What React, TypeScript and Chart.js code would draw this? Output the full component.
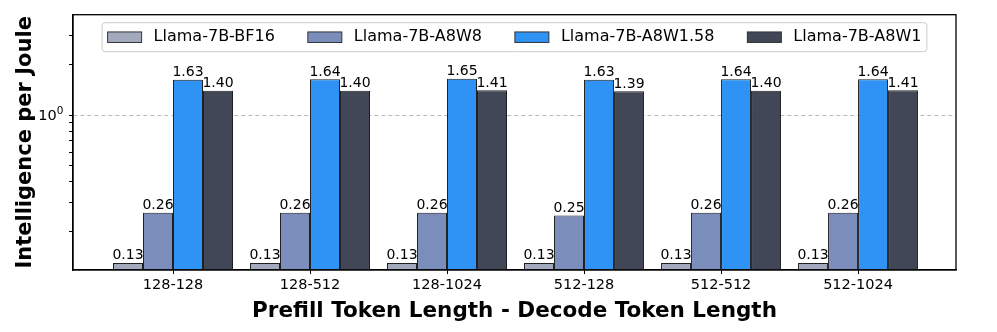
import { useEffect, useRef } from "react";
import { Chart, registerables } from "chart.js";

Chart.register(...registerables);

const CATEGORIES = ["128-128", "128-512", "128-1024", "512-128", "512-512", "512-1024"];
const SERIES_NAMES = ["Llama-7B-BF16", "Llama-7B-A8W8", "Llama-7B-A8W1.58", "Llama-7B-A8W1"];
const BF16 = [0.13, 0.13, 0.13, 0.13, 0.13, 0.13];
const A8W8 = [0.26, 0.26, 0.26, 0.25, 0.26, 0.26];
const A8W158 = [1.63, 1.64, 1.65, 1.63, 1.64, 1.64];
const A8W1 = [1.4, 1.4, 1.41, 1.39, 1.4, 1.41];
const Y_TICKS = [0.2, 0.3, 0.4, 0.5, 0.6, 0.7, 0.8, 0.9, 1, 2, 3];
const Y_MAJOR = [{ value: 1, base: "10", exp: "0" }];
const Y_MIN = 0.118;
const Y_MAX = 4.0;
const COLORS = ["#A4AABE", "#7A8DBB", "#2E93F5", "#414756"];
const EDGE = "#1e1e1e";
const FONT = '"DejaVu Sans", "Liberation Sans", sans-serif';

const SERIES = [BF16, A8W8, A8W158, A8W1];

const framePlugin = {
  id: "frame",
  afterDraw(chart: any) {
    const { ctx, chartArea: a } = chart;
    ctx.save();
    ctx.strokeStyle = "#000";
    ctx.lineWidth = 1.3;
    ctx.strokeRect(a.left, a.top, a.right - a.left, a.bottom - a.top);
    ctx.restore();
  },
};

const yMajorLabelPlugin = {
  id: "yMajorLabels",
  afterDraw(chart: any) {
    const { ctx } = chart;
    const y = chart.scales.y;
    ctx.save();
    ctx.fillStyle = "#000";
    ctx.textBaseline = "alphabetic";
    ctx.textAlign = "left";
    Y_MAJOR.forEach((m) => {
      const py = y.getPixelForValue(m.value);
      ctx.font = `14.5px ${FONT}`;
      const wb = ctx.measureText(m.base).width;
      ctx.font = `10.5px ${FONT}`;
      const we = ctx.measureText(m.exp).width;
      const right = y.right - 4 - 5.5;
      const x0 = right - wb - we;
      ctx.font = `14.5px ${FONT}`;
      ctx.fillText(m.base, x0, py + 5.3);
      ctx.font = `10.5px ${FONT}`;
      ctx.fillText(m.exp, x0 + wb, py - 1.5);
    });
    ctx.restore();
  },
};

const valueLabelPlugin = {
  id: "valueLabels",
  afterDatasetsDraw(chart: any) {
    const { ctx } = chart;
    ctx.save();
    ctx.font = `14px ${FONT}`;
    ctx.fillStyle = "#000";
    ctx.textAlign = "center";
    ctx.textBaseline = "alphabetic";
    chart.data.datasets.forEach((ds: any, di: number) => {
      const meta = chart.getDatasetMeta(di);
      meta.data.forEach((bar: any, i: number) => {
        const v = ds.data[i].y as number;
        ctx.fillText(v.toFixed(2), bar.x, bar.y - 3.5);
      });
    });
    ctx.restore();
  },
};

const legendPlugin = {
  id: "innerLegend",
  afterDraw(chart: any) {
    const { ctx, chartArea: a } = chart;
    const ds = chart.data.datasets;
    ctx.save();
    ctx.font = `16px ${FONT}`;
    const widths = ds.map((d: any) => ctx.measureText(d.label).width);
    const pad = 5.5, patchW = 34, patchH = 10.5, gap = 12, col = 33, h = 29;
    const total =
      pad * 2 +
      widths.reduce((s: number, w: number) => s + patchW + gap + w, 0) +
      col * (ds.length - 1);
    const left = (a.left + a.right) / 2 - total / 2;
    const top = a.top + 8;
    ctx.beginPath();
    ctx.roundRect(left, top, total, h, 3);
    ctx.fillStyle = "rgba(255,255,255,0.8)";
    ctx.fill();
    ctx.strokeStyle = "#cccccc";
    ctx.lineWidth = 1;
    ctx.stroke();
    const cy = top + h / 2;
    let x = left + pad;
    ds.forEach((d: any, i: number) => {
      ctx.fillStyle = d.backgroundColor;
      ctx.fillRect(x, cy - patchH / 2, patchW, patchH);
      ctx.strokeStyle = "#333";
      ctx.lineWidth = 1;
      ctx.strokeRect(x, cy - patchH / 2, patchW, patchH);
      ctx.fillStyle = "#000";
      ctx.textAlign = "left";
      ctx.textBaseline = "middle";
      ctx.fillText(d.label, x + patchW + gap, cy);
      x += patchW + gap + widths[i] + col;
    });
    ctx.restore();
  },
};

export default function App() {
  const ref = useRef<HTMLCanvasElement | null>(null);

  useEffect(() => {
    if (!ref.current) return;
    const datasets = SERIES_NAMES.map((name, si) => ({
      label: name,
      data: SERIES[si].map((v, i) => ({ x: i, y: v })),
      backgroundColor: COLORS[si],
      borderColor: EDGE,
      borderWidth: 1,
      borderSkipped: false,
      inflateAmount: 0,
      categoryPercentage: 120 / 137,
      barPercentage: 1,
    }));
    const chart = new Chart(ref.current, {
      type: "bar",
      data: { datasets },
      plugins: [framePlugin, valueLabelPlugin, legendPlugin, yMajorLabelPlugin],
      options: {
        animation: false,
        responsive: false,
        devicePixelRatio: 1,
        layout: { padding: { left: 0, top: 12, right: 41, bottom: 0 } },
        plugins: { legend: { display: false }, tooltip: { enabled: false } },
        scales: {
          x: {
            type: "linear",
            offset: false,
            min: -0.73,
            max: 5.715,
            afterBuildTicks: (axis: any) => {
              axis.ticks = CATEGORIES.map((_, i) => ({ value: i }));
            },
            afterFit: (scale: any) => {
              scale.height = 62;
            },
            grid: {
              offset: false,
              drawOnChartArea: false,
              drawTicks: true,
              tickLength: 4,
              tickColor: "#000",
              tickWidth: 1,
            },
            border: { display: true, color: "#000", width: 1.3 },
            ticks: {
              autoSkip: false,
              maxRotation: 0,
              padding: 3,
              color: "#000",
              font: { family: FONT, size: 14.5 },
              callback: (v: any) => CATEGORIES[Math.round(Number(v))] ?? "",
            },
            title: {
              display: true,
              text: "Prefill Token Length - Decode Token Length",
              color: "#000",
              font: { family: FONT, size: 21.5, weight: "bold", lineHeight: 1.2 },
              padding: { top: 0, bottom: 7.5 },
            },
          },
          y: {
            type: "logarithmic",
            min: Y_MIN,
            max: Y_MAX,
            afterBuildTicks: (axis: any) => {
              axis.ticks = Y_TICKS.map((v) => ({ value: v, major: v === 1 }));
            },
            afterFit: (scale: any) => {
              scale.width = 73;
            },
            grid: {
              drawOnChartArea: true,
              drawTicks: true,
              tickLength: 4,
              tickColor: "#000",
              tickWidth: 1,
              lineWidth: 1,
              color: (c: any) => (c.tick && c.tick.value === 1 ? "#b8b8b8" : "rgba(0,0,0,0)"),
              tickBorderDash: [],
            },
            border: { display: true, color: "#000", width: 1.3, dash: [4, 3] },
            ticks: {
              autoSkip: false,
              padding: 6,
              color: "#000",
              font: { family: FONT, size: 14.5 },
              callback: () => "",
            },
            title: {
              display: true,
              text: "Intelligence per Joule",
              color: "#000",
              font: { family: FONT, size: 21, weight: "bold", lineHeight: 1.2 },
              padding: { top: 12.5, bottom: 0 },
            },
          },
        },
      } as any,
    });
    return () => chart.destroy();
  }, []);

  return (
    <div style={{ position: "absolute", left: 0, top: 0, width: 997, height: 332, background: "#fff" }}>
      <canvas ref={ref} width={997} height={332} style={{ display: "block" }} />
    </div>
  );
}
